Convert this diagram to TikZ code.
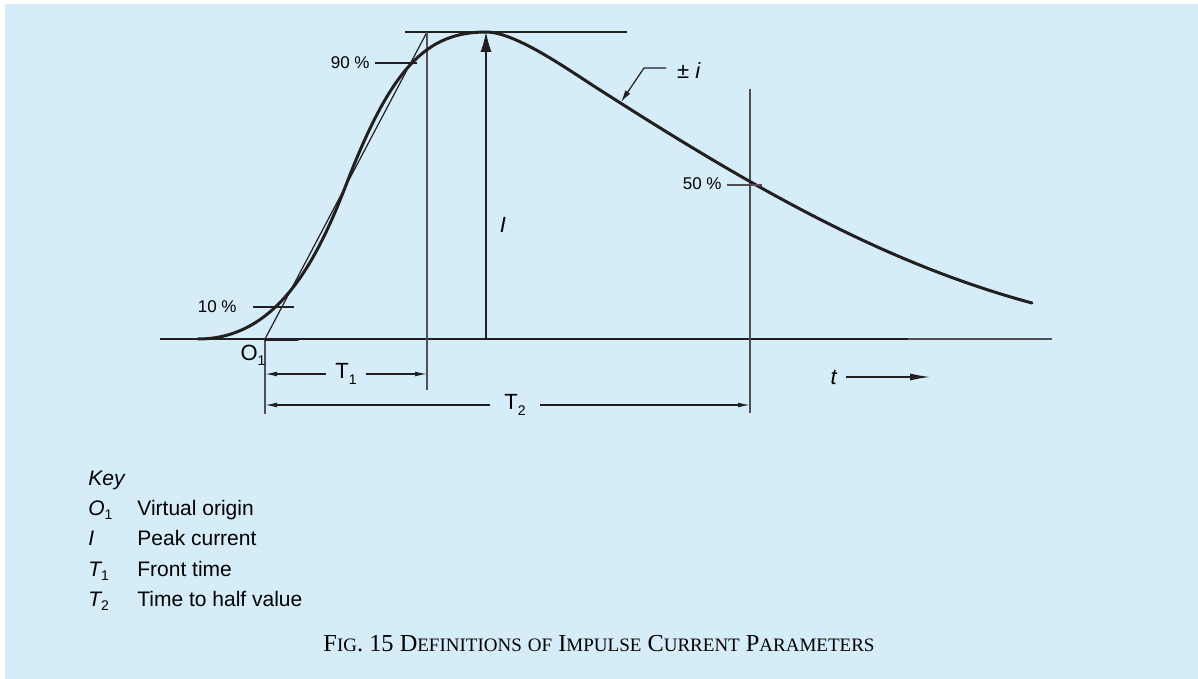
\documentclass[tikz,border=0pt]{standalone}
\usepackage{fontspec}
\setmainfont{Liberation Sans}
\newfontfamily\capfont{Liberation Serif}
\usetikzlibrary{arrows.meta}
\definecolor{panel}{HTML}{D5ECF9}
\definecolor{ink}{HTML}{231F20}
\definecolor{rule}{HTML}{505052}
\newcommand{\lo}[1]{\raisebox{-0.45ex}{\upshape\fontsize{7}{8}\selectfont #1}}
\newcommand{\capsc}[2]{#1{\fontsize{9.5}{11}\selectfont #2}}
\tikzset{>=Latex,
  wave/.style={draw=ink,line width=1.5pt,line cap=round,line join=round},
  tangent/.style={draw=ink,line width=0.6pt},
  guide/.style={draw=rule,line width=0.75pt},
  dimline/.style={draw=ink,line width=0.6pt,-{Latex[length=6pt,width=2.4pt]}},
  pct/.style={font=\fontsize{8.5}{10}\selectfont,anchor=east,inner sep=0pt},
  big/.style={font=\fontsize{11}{13}\selectfont,inner sep=1pt},
  keysym/.style={font=\fontsize{10.5}{12}\selectfont\itshape,anchor=base west,inner sep=0pt},
  keytxt/.style={font=\fontsize{10.5}{12}\selectfont,anchor=base west,inner sep=0pt}}

\begin{document}
\begin{tikzpicture}[x=0.5pt,y=-0.5pt]
  \fill[white] (0,0) rectangle (1198,679);
  \fill[panel] (5,4) rectangle (1198,679);
  \useasboundingbox (0,0) rectangle (1198,679);

  \coordinate (O1) at (265,339);
  \coordinate (oEnd) at (265,414);
  \coordinate (pk) at (486,32);
  \coordinate (pkFoot) at (486,339);
  \coordinate (fTop) at (427,32);
  \coordinate (fEnd) at (427,390);
  \coordinate (hTop) at (750,89);
  \coordinate (hEnd) at (750,413);
  \coordinate (axL) at (160,339);
  \coordinate (axM) at (908,339);
  \coordinate (axR) at (1052,339);
  \coordinate (plL) at (405,32);
  \coordinate (plR) at (627,32);
  \coordinate (m10) at (282,307);
  \coordinate (m90) at (411,63);
  \coordinate (m50) at (751,185);

  \draw[tangent] (axL) -- (axM);
  \draw[guide] (axM) -- (axR);
  \draw[tangent] (plL) -- (plR);
  \draw[tangent] (O1) -- (fTop);
  \draw[guide] (fTop) -- (fEnd);
  \draw[guide] (O1) -- (oEnd);
  \draw[guide] (hTop) -- (hEnd);
  \draw[tangent,-{Latex[length=10pt,width=5.5pt]}] (pkFoot) -- (pk);

  \draw[wave] (198,339) .. controls (276,339) and (316,263) .. (346,185)
    .. controls (391,68) and (426,32) .. (pk)
    .. controls (516,32) and (570,71) .. (600,90)
    .. controls (750,186) and (882,262.5) .. (1032,303);
  \draw[wave] (O1) -- ++(33,0);

  \draw[tangent] (m10) ++(-29,0) -- ++(41,0);
  \draw[tangent] (m90) ++(-36,0) -- ++(42,0);
  \draw[guide] (m50) ++(-24,0) -- ++(35,0);
  \node[pct] (p10) at (237,307) {10 \%};
  \node[pct] (p90) at (370,63) {90 \%};
  \node[pct] (p50) at (722,184) {50 \%};

  \node[big] (pmi) at (689,71) {± \textit{i}};
  \coordinate (lead0) at (666,68);
  \coordinate (lead1) at (644,68);
  \coordinate (lead2) at (621,102);
  \draw[tangent,-{Latex[length=6pt,width=3pt]}] (lead0) -- (lead1) -- (lead2);

  \node[big] (peakI) at (503,225) {\textit{I}};
  \node[big] (o1lab) at (253,355) {O\lo{1}};

  \node[big,inner sep=4.5pt] (t1) at (346,374) {T\lo{1}};
  \draw[dimline] (t1.west) -- (O1 |- t1);
  \draw[dimline] (t1.east) -- (fEnd |- t1);
  \node[big,inner sep=7pt] (t2) at (515,405) {T\lo{2}};
  \draw[dimline] (t2.west) -- (O1 |- t2);
  \draw[dimline] (t2.east) -- (hEnd |- t2);

  \node[big] (tlab) at (834,377) {\textit{t}};
  \coordinate (tEnd) at (930,377);
  \draw[tangent,-{Latex[length=10pt,width=3.5pt]}] (tlab.east) ++(6,0) -- (tEnd);

  \node[keysym] (key) at (88,485) {Key};
  \node[keysym] (k1) at (88,515) {O\lo{1}};
  \node[keytxt] (k1t) at (137,515) {Virtual origin};
  \node[keysym] (k2) at (88,545) {I};
  \node[keytxt] (k2t) at (137,545) {Peak current};
  \node[keysym] (k3) at (88,576) {T\lo{1}};
  \node[keytxt] (k3t) at (137,576) {Front time};
  \node[keysym] (k4) at (88,606) {T\lo{2}};
  \node[keytxt] (k4t) at (137,606) {Time to half value};

  \node[anchor=base,inner sep=0pt,font=\capfont\fontsize{12.2}{14}\selectfont] (cap) at (599,651)
    {\capsc{F}{IG}. 15 \capsc{D}{EFINITIONS} \capsc{}{OF} \capsc{I}{MPULSE} \capsc{C}{URRENT} \capsc{P}{ARAMETERS}};
\end{tikzpicture}
\end{document}
